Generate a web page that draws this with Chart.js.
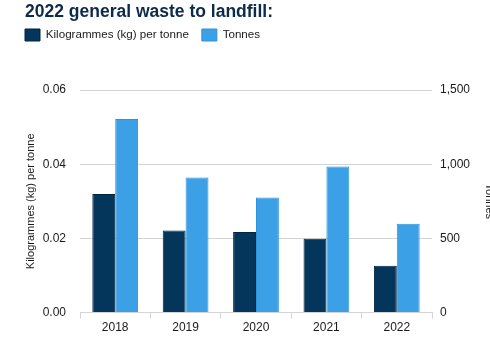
<!DOCTYPE html>
<html>
<head>
<meta charset="utf-8">
<script src="https://cdn.jsdelivr.net/npm/chart.js@4.4.1/dist/chart.umd.min.js"></script>
<style>
  html, body { margin: 0; padding: 0; background: #fff; overflow: hidden; }
  #wrap { position: relative; width: 520px; height: 353px; }
</style>
</head>
<body>
<div id="wrap"><canvas id="wasteChart"></canvas></div>
<script>
// Data
const years = ["2018", "2019", "2020", "2021", "2022"];
const kgPerTonne = [0.032, 0.0221, 0.0217, 0.0199, 0.0126];
const tonnes = [1305, 910, 775, 985, 598];

const navy = "#03365a";
const sky = "#3ba0e6";
const gridGrey = "#d4d4d4";

Chart.defaults.font.family = "'Liberation Sans', Arial, sans-serif";
Chart.defaults.color = "#1a1a1a";

// push the plot down below the legend, and line the title up with the legend
const layoutTweaks = {
  id: "layoutTweaks",
  beforeInit(chart) {
    const legend = chart.legend;
    const fit = legend.fit;
    legend.fit = function () {
      fit.call(this);
      this.height += 39;
    };
  },
  afterLayout(chart) {
    const t = chart.titleBlock;
    t.left += 13;
    t.right += 13;
  },
};

new Chart(document.getElementById("wasteChart"), {
  type: "bar",
  data: {
    labels: years,
    datasets: [
      {
        label: "Kilogrammes (kg) per tonne",
        data: kgPerTonne,
        backgroundColor: navy,
        borderColor: "#012440",
        borderWidth: 1,
        yAxisID: "y",
        categoryPercentage: 0.65,
        barPercentage: 1,
      },
      {
        label: "Tonnes",
        data: tonnes,
        backgroundColor: sky,
        borderColor: "#2f93dc",
        borderWidth: 1,
        yAxisID: "y1",
        categoryPercentage: 0.65,
        barPercentage: 1,
      },
    ],
  },
  options: {
    responsive: true,
    maintainAspectRatio: false,
    animation: false,
    layout: { padding: { left: 12, right: 0, top: 2, bottom: 16 } },
    plugins: {
      title: {
        display: true,
        text: "2022 general waste to landfill:",
        align: "start",
        color: "#0c2a4b",
        font: { size: 17.5, weight: "bold" },
        padding: { top: 0, bottom: -7 },
      },
      legend: {
        position: "top",
        align: "start",
        labels: {
          boxWidth: 15,
          boxHeight: 12,
          padding: 13,
          font: { size: 11.6 },
          color: "#1a1a1a",
        },
      },
      tooltip: { enabled: false },
    },
    scales: {
      x: {
        offset: true,
        grid: {
          offset: true,
          drawOnChartArea: false,
          tickLength: 6,
          color: gridGrey,
        },
        border: { color: gridGrey },
        ticks: { font: { size: 12 }, padding: 2 },
      },
      y: {
        position: "left",
        min: 0,
        max: 0.06,
        afterFit: (scale) => { scale.width = 68; },
        grid: { color: gridGrey, drawTicks: false },
        border: { display: false },
        ticks: {
          stepSize: 0.02,
          padding: 14,
          font: { size: 12 },
          callback: (v) => v.toFixed(2),
        },
        title: {
          display: true,
          text: "Kilogrammes (kg) per tonne",
          font: { size: 11 },
          padding: { top: 12.5, bottom: 3 },
        },
      },
      y1: {
        position: "right",
        min: 0,
        max: 1500,
        afterFit: (scale) => { scale.width = 88; },
        grid: { drawOnChartArea: false, drawTicks: false },
        border: { display: false },
        ticks: {
          stepSize: 500,
          padding: 8,
          font: { size: 12 },
          callback: (v) => v.toLocaleString("en-US"),
        },
        title: {
          display: true,
          text: "Tonnes",
          font: { size: 11 },
          padding: { top: 24, bottom: 14 },
        },
      },
    },
  },
  plugins: [layoutTweaks],
});
</script>
</body>
</html>
